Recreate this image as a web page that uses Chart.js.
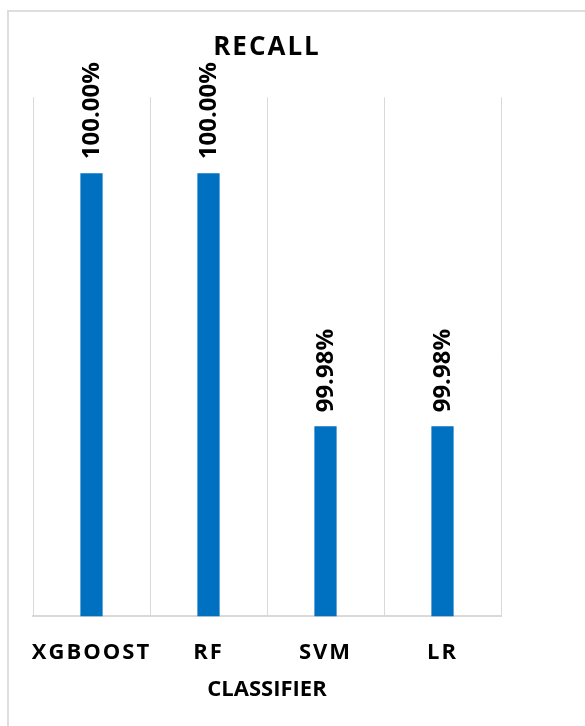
<!DOCTYPE html>
<html>
<head>
<meta charset="utf-8">
<title>Recall</title>
<script src="https://cdn.jsdelivr.net/npm/chart.js@4/dist/chart.umd.min.js"></script>
<style>
  html, body { margin: 0; padding: 0; background: #fff; overflow: hidden; }
  .frame {
    position: absolute; left: 7px; top: 10px; width: 700px; height: 800px;
    border-left: 2px solid #dedede; border-top: 2px solid #dedede;
  }
  .chart-box { position: absolute; left: 0; top: 0; width: 585px; height: 726px; }
</style>
</head>
<body>
<div class="frame"></div>
<div class="chart-box"><canvas id="recallChart"></canvas></div>
<script>
const classifiers = ['XGBOOST', 'RF', 'SVM', 'LR'];
const recallValues = [100.00, 100.00, 99.98, 99.98];
// value range of the hidden y axis
const yMin = 99.965;
const yMax = 100.006;

const BAR_BLUE = '#0070c0';
const GRID_GREY = '#d9d9d9';
const FONT = "'Open Sans'";

// rotated percentage labels above each bar
const valueLabels = {
  id: 'valueLabels',
  afterDatasetsDraw(chart) {
    const ctx = chart.ctx;
    const meta = chart.getDatasetMeta(0);
    ctx.save();
    ctx.letterSpacing = '0px';
    ctx.font = `bold 24px ${FONT}`;
    ctx.fillStyle = '#000';
    ctx.textAlign = 'left';
    ctx.textBaseline = 'middle';
    meta.data.forEach((bar, i) => {
      ctx.save();
      ctx.translate(bar.x + 1, bar.y - 14);
      ctx.rotate(-Math.PI / 2);
      ctx.fillText(recallValues[i].toFixed(2) + '%', 0, 0);
      ctx.restore();
    });
    ctx.restore();
  }
};

// spread out the chart title and category names, keep the axis title tight
const spacedText = {
  id: 'spacedText',
  beforeDraw(chart) {
    chart.ctx.letterSpacing = '2px';
    const x = chart.scales.x;
    if (x && !x._plainTitle) {
      const drawTitle = x.drawTitle;
      x.drawTitle = function () {
        this.ctx.save();
        this.ctx.letterSpacing = '0px';
        drawTitle.call(this);
        this.ctx.restore();
      };
      x._plainTitle = true;
    }
  }
};

const ctx = document.getElementById('recallChart').getContext('2d');
new Chart(ctx, {
  type: 'bar',
  data: {
    labels: classifiers,
    datasets: [{
      data: recallValues,
      backgroundColor: BAR_BLUE,
      borderWidth: 0,
      categoryPercentage: 0.19,
      barPercentage: 1.0,
    }],
  },
  options: {
    responsive: true,
    maintainAspectRatio: false,
    animation: false,
    layout: { padding: { left: 33, right: 84, top: 0, bottom: 23 } },
    plugins: {
      legend: { display: false },
      tooltip: { enabled: false },
      title: {
        display: true,
        text: 'RECALL',
        color: '#000',
        font: { family: FONT, size: 26, weight: 'bold' },
        padding: { top: 32, bottom: 34 },
      },
    },
    scales: {
      x: {
        grid: { offset: true, color: GRID_GREY, lineWidth: 1, drawTicks: false },
        border: { color: GRID_GREY, width: 2 },
        ticks: {
          color: '#000',
          font: { family: FONT, size: 22, weight: 'bold' },
          padding: 23,
          autoSkip: false,
          maxRotation: 0,
        },
        title: {
          display: true,
          text: 'CLASSIFIER',
          color: '#000',
          font: { family: FONT, size: 22, weight: 'bold' },
          padding: { top: -12, bottom: 0 },
        },
      },
      y: { display: false, min: yMin, max: yMax },
    },
  },
  plugins: [valueLabels, spacedText],
});
</script>
</body>
</html>
